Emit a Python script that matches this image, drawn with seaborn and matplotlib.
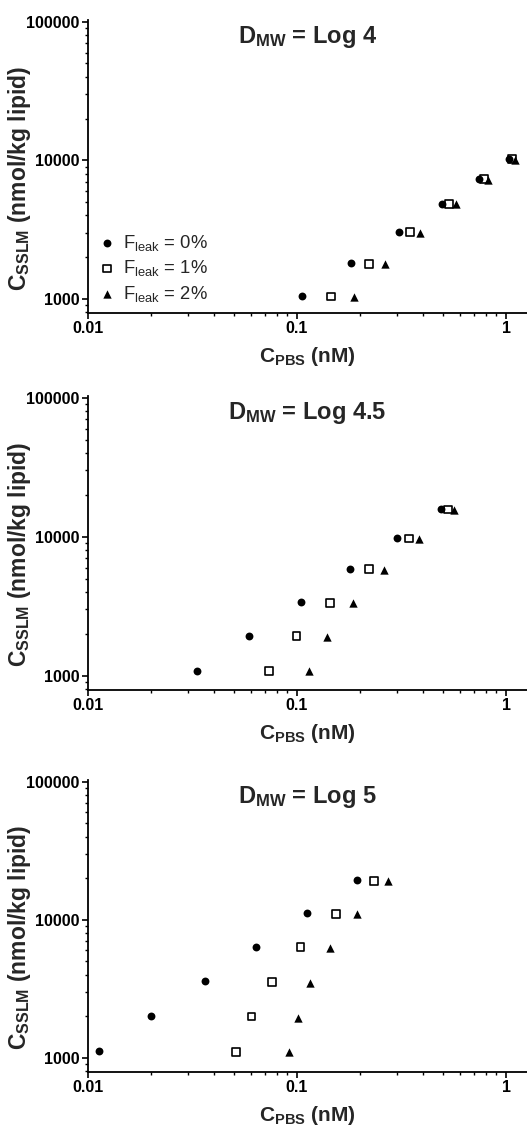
import matplotlib
matplotlib.use("Agg")
import matplotlib.pyplot as plt
import seaborn as sns
import numpy as np
from matplotlib.ticker import LogLocator, NullFormatter

# ---------------- data ----------------
titles = [r"$\mathbf{D}_{\mathbf{MW}}$ = Log 4",
          r"$\mathbf{D}_{\mathbf{MW}}$ = Log 4.5",
          r"$\mathbf{D}_{\mathbf{MW}}$ = Log 5"]
series_labels = [r"F$_{\mathrm{leak}}$ = 0%", r"F$_{\mathrm{leak}}$ = 1%", r"F$_{\mathrm{leak}}$ = 2%"]

# Panel 1: D_MW = Log 4
p1_x_f0 = [0.106, 0.181, 0.306, 0.492, 0.743, 1.033]
p1_y_f0 = [1040, 1810, 3030, 4870, 7330, 10160]
p1_x_f1 = [0.146, 0.222, 0.348, 0.533, 0.785, 1.07]
p1_y_f1 = [1040, 1790, 3030, 4870, 7300, 10160]
p1_x_f2 = [0.187, 0.263, 0.387, 0.574, 0.823, 1.10]
p1_y_f2 = [1030, 1790, 2990, 4820, 7230, 10100]

# Panel 2: D_MW = Log 4.5
p2_x_f0 = [0.0333, 0.0589, 0.104, 0.179, 0.302, 0.487]
p2_y_f0 = [1086, 1940, 3400, 5870, 9860, 15800]
p2_x_f1 = [0.0736, 0.0995, 0.144, 0.221, 0.344, 0.526]
p2_y_f1 = [1080, 1930, 3360, 5840, 9730, 15700]
p2_x_f2 = [0.114, 0.1395, 0.1845, 0.261, 0.385, 0.564]
p2_y_f2 = [1075, 1910, 3330, 5780, 9650, 15550]

# Panel 3: D_MW = Log 5
p3_x_f0 = [0.01125, 0.0201, 0.0361, 0.0638, 0.112, 0.193]
p3_y_f0 = [1117, 2006, 3580, 6350, 11170, 19290]
p3_x_f1 = [0.0513, 0.0606, 0.076, 0.104, 0.153, 0.234]
p3_y_f1 = [1104, 1995, 3565, 6320, 11050, 19200]
p3_x_f2 = [0.0917, 0.1006, 0.116, 0.144, 0.193, 0.272]
p3_y_f2 = [1095, 1960, 3500, 6230, 10950, 19000]

xticks = [0.01, 0.1, 1]
xtick_labels = ["0.01", "0.1", "1"]
yticks = [1000, 10000, 100000]
ytick_labels = ["1000", "10000", "100000"]
xlabel = r"C$_{\mathbf{PBS}}$ (nM)"
ylabel = r"C$_{\mathbf{SSLM}}$ (nmol/kg lipid)"

panels = [
    (p1_x_f0, p1_y_f0, p1_x_f1, p1_y_f1, p1_x_f2, p1_y_f2),
    (p2_x_f0, p2_y_f0, p2_x_f1, p2_y_f1, p2_x_f2, p2_y_f2),
    (p3_x_f0, p3_y_f0, p3_x_f1, p3_y_f1, p3_x_f2, p3_y_f2),
]

# ---------------- style ----------------
sns.set_theme(style="ticks")
plt.rcParams["font.family"] = ["Liberation Sans", "DejaVu Sans"]
plt.rcParams["mathtext.fontset"] = "custom"
plt.rcParams["mathtext.rm"] = "Liberation Sans"
plt.rcParams["mathtext.it"] = "Liberation Sans:italic"
plt.rcParams["mathtext.bf"] = "Liberation Sans:bold"
plt.rcParams["axes.linewidth"] = 1.3

fig = plt.figure(figsize=(5.27, 11.31), dpi=100)
W, H = 527.0, 1131.0
left_px, right_px = 88.0, 527.0
tops = [20.0, 396.0, 780.0]
bottoms = [313.0, 690.0, 1072.0]

for i, (xa, ya, xb, yb, xc, yc) in enumerate(panels):
    ax = fig.add_axes([left_px / W, 1 - bottoms[i] / H,
                       (right_px - left_px) / W, (bottoms[i] - tops[i]) / H])
    sns.scatterplot(x=xa, y=ya, ax=ax, marker="o", color="black",
                    edgecolor="black", linewidth=0, s=32, label=series_labels[0])
    sns.scatterplot(x=xb, y=yb, ax=ax, marker="s", facecolor="none",
                    edgecolor="black", linewidth=1.2, s=32, label=series_labels[1])
    sns.scatterplot(x=xc, y=yc, ax=ax, marker="^", color="black",
                    edgecolor="black", linewidth=0, s=36, label=series_labels[2])
    ax.set_xscale("log")
    ax.set_yscale("log")
    ax.set_xlim(0.01, 1.26)
    ax.set_ylim(790, 103000)
    ax.set_xticks(xticks)
    ax.set_xticklabels(xtick_labels)
    ax.set_yticks(yticks)
    ax.set_yticklabels(ytick_labels)
    ax.xaxis.set_minor_locator(LogLocator(base=10, subs=np.arange(2, 10)))
    ax.yaxis.set_minor_locator(LogLocator(base=10, subs=np.arange(2, 10)))
    ax.xaxis.set_minor_formatter(NullFormatter())
    ax.yaxis.set_minor_formatter(NullFormatter())
    ax.tick_params(axis="both", which="major", length=4, width=1.2,
                   labelsize=11.5, pad=2, color="black", labelcolor="black")
    ax.tick_params(axis="both", which="minor", length=2.2, width=1.0, color="black")
    for lab in ax.get_xticklabels() + ax.get_yticklabels():
        lab.set_fontweight("bold")
    sns.despine(ax=ax)
    for sp in ax.spines.values():
        sp.set_color("black")
    ax.set_xlabel(xlabel, fontsize=15, fontweight="bold", labelpad=6)
    ax.set_ylabel(ylabel, fontsize=16.5, fontweight="bold")
    ax.yaxis.set_label_coords(-0.125, 0.46)
    ax.text(0.5, 0.985, titles[i], transform=ax.transAxes, ha="center", va="top",
            fontsize=17, fontweight="bold")
    if i == 0:
        ax.legend(loc="lower left", bbox_to_anchor=(-0.012, -0.012), frameon=False,
                  fontsize=13.3, handletextpad=0.3, labelspacing=0.28,
                  borderaxespad=0.3, handlelength=1.2, markerscale=1.0)
    else:
        lg = ax.get_legend()
        if lg is not None:
            lg.remove()

fig.savefig("out.png", dpi=100)
